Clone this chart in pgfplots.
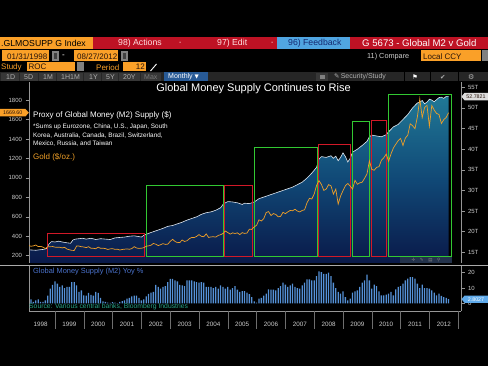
\documentclass[border=0pt]{standalone}
\usepackage{pgfplots}
\pgfplotsset{compat=1.18}
\usepackage{pgfplotstable}
\usepackage{fontspec}
\setmainfont{Liberation Sans}
\newfontfamily\dejavu{DejaVu Sans}

\definecolor{bbgorange}{RGB}{250,160,40}
\definecolor{bbgred}{RGB}{190,18,36}
\definecolor{fbblue}{RGB}{80,165,225}
\definecolor{fbtext}{RGB}{20,40,110}
\definecolor{goldline}{RGB}{240,160,40}
\definecolor{m2line}{RGB}{225,232,240}
\definecolor{areatop}{RGB}{32,120,150}
\definecolor{areamid}{RGB}{16,72,118}
\definecolor{areabot}{RGB}{10,24,72}
\definecolor{boxgreen}{RGB}{50,200,50}
\definecolor{boxred}{RGB}{210,25,40}
\definecolor{barblue}{RGB}{85,145,215}
\definecolor{ticktext}{RGB}{205,205,205}
\definecolor{axisgray}{RGB}{150,150,150}
\definecolor{sepgray}{RGB}{170,170,170}
\definecolor{yeargray}{RGB}{110,110,110}
\definecolor{yoytitle}{RGB}{75,115,205}
\definecolor{srcgreen}{RGB}{40,165,135}
\definecolor{toolbar}{RGB}{38,38,38}
\definecolor{btn}{RGB}{55,55,55}
\definecolor{tbtext}{RGB}{175,175,175}
\definecolor{tbdim}{RGB}{120,120,120}
\definecolor{monthly}{RGB}{40,90,150}
\definecolor{hdrtext}{RGB}{255,225,225}
\definecolor{darktext}{RGB}{40,20,10}
\definecolor{stripbg}{RGB}{35,50,75}
\definecolor{tagwhite}{RGB}{220,220,220}
\definecolor{tagblue}{RGB}{95,170,235}

% month index m: 0 = Jan 1998
\pgfplotstableread{
m gold yoy
0 305 2
1 297 2.5
2 301 1
3 310 2
4 294 2.5
5 296 1
6 288 1
7 273 2
8 293 5
9 292 9.6
10 294 12
11 288 14.4
12 287 12.8
13 287 10.7
14 280 11.7
15 286 10
16 268 10.7
17 261 10.7
18 255 13.9
19 254 13.9
20 299 11.7
21 299 7.4
22 292 8.5
23 290 5.2
24 283 5
25 293 6.8
26 276 5.5
27 276 5
28 272 7.4
29 288 6.8
30 276 3.5
31 277 1.3
32 273 1
33 264 0.5
34 270 0.3
35 272 0.8
36 265 0.5
37 267 0.2
38 258 1
39 264 1.5
40 267 2
41 270 3
42 266 3.5
43 273 4.5
44 293 5
45 279 5
46 275 3.5
47 277 2
48 282 2.5
49 297 4.5
50 301 6.2
51 308 7
52 326 7.4
53 318 12
54 304 10.7
55 313 9.6
56 324 10.7
57 316 11.3
58 319 13.9
59 347 16
60 368 16
61 347 15
62 334 14.4
63 336 12
64 361 11.7
65 346 11.3
66 354 15
67 375 15
68 388 15
69 386 14.4
70 398 13.9
71 417 13.5
72 399 13.9
73 395 13.5
74 424 10.7
75 388 10.7
76 393 10.7
77 395 10
78 391 10.7
79 408 9.6
80 416 11.7
81 428 10.7
82 453 9.6
83 438 10.7
84 422 9
85 435 10
86 428 11.3
87 435 9
88 417 7.4
89 437 8
90 429 8
91 433 7
92 473 6
93 470 4
94 495 1.3
95 513 0.5
96 569 3
97 556 3.5
98 582 5
99 644 6.3
100 653 9.1
101 613 9
102 633 9
103 624 8.5
104 600 10
105 604 11.3
106 646 13.5
107 632 12.2
108 650 10.7
109 665 11.7
110 662 12.8
111 677 10.7
112 659 10
113 650 9.6
114 665 11.7
115 672 13.5
116 743 15.7
117 789 15.7
118 783 15
119 834 15
120 923 17.8
121 971 20.9
122 933 20.4
123 871 19.3
124 885 19.3
125 930 20
126 918 17.8
127 833 13.5
128 884 10
129 730 7.4
130 814 6.3
131 869 7.8
132 919 4.1
133 942 2
134 916 3
135 884 7
136 975 7.8
137 934 8.5
138 949 10.7
139 955 13.5
140 996 15
141 1040 18.8
142 1175 15
143 1087 9.6
144 1078 12.2
145 1108 11.3
146 1115 7.8
147 1180 5.2
148 1207 5.2
149 1244 5.7
150 1169 6.3
151 1246 7.4
152 1307 5.2
153 1346 9.1
154 1383 10.7
155 1405 11.3
156 1333 12.8
157 1410 15
158 1439 16.1
159 1556 17.2
160 1536 17.2
161 1505 16.1
162 1628 12.8
163 1813 10
164 1620 12.2
165 1722 10
166 1746 10
167 1531 9.6
168 1744 8.5
169 1697 7
170 1662 5.2
171 1651 6.3
172 1559 4.8
173 1598 4.1
174 1622 3.5
175 1669 2.8
}\monthly

\pgfplotstableread{
m m2
0 15.6
3 15.5
6 15.7
7.5 15.9
8.5 17.0
9.5 17.6
11 17.5
12.5 17.7
14 17.5
16 17.3
17.5 17.2
18.5 18.0
19.5 18.2
21 18.3
22.5 18.4
24 18.2
26 18.4
28 18.1
30 18.3
32 18.2
34 18.1
36 18.5
38 18.6
40 18.7
42 18.9
44 19.0
46 18.8
47 18.7
48 19.1
50 19.6
52 20.0
54 20.4
56 20.8
58 21.3
60 21.5
62 21.9
64 22.3
66 22.8
68 23.2
70 23.6
72 24.2
74 24.6
76 24.8
78 25.2
80 25.8
81 26.6
82 27.0
83 27.3
85 27.2
87 27.0
89 26.6
90 26.9
92 26.8
94 27.2
96 28.0
98 28.4
100 28.8
102 29.2
104 29.6
106 30.0
108 30.4
110 30.8
112 31.4
114 32.0
116 33.0
118 34.2
120 35.6
121 37.6
122 38.2
124 38.0
126 38.4
127 37.8
128 38.3
129 37.2
130 38.0
131 39.1
132 38.2
133 36.9
134 37.8
135 39.3
137 40.0
139 40.9
141 41.9
142 43.0
143 43.4
145 43.2
147 43.0
149 43.5
150 44.2
152 45.4
154 46.0
155 46.6
157 47.8
158 48.4
159 49.2
160 50.0
162 51.2
163 51.4
164 51.8
165 51.0
166 51.4
167 52.1
168 51.9
169 51.5
170 52.0
171 52.5
172 52.6
173 52.3
174 52.8
175 52.78
}\mtwo

\pgfplotsset{
  bbgaxis/.style={
    at={(29pt,-263pt)}, anchor=south west, scale only axis,
    width=432pt, height=181pt,
    xmin=0.167, xmax=180.17, axis x line=none,
    tick align=outside, major tick length=3.5pt,
    every tick/.style={axisgray, line width=0.5pt},
    axis line style={axisgray, line width=0.6pt},
    tick label style={font=\fontsize{6}{7}\selectfont, text=ticktext},
    /pgf/number format/assume math mode=true,
    /pgf/number format/set thousands separator={},
  }
}

\begin{document}
\begin{tikzpicture}
\path[use as bounding box] (0,0) rectangle (488pt,-366pt);
\fill[black] (0,0) rectangle (488pt,-366pt);

% ---------- header ----------
\begin{scope}[x=1pt,y=-1pt]
 \tikzset{hdr/.style={inner sep=0pt, anchor=west, font=\fontsize{8.7}{9}\selectfont}}
 % row 1
 \fill[bbgorange] (0,37) rectangle (93,49.3);
 \node[hdr, text=black] at (1,43.2) {.GLMOSUPP G Index};
 \fill[bbgred] (93,37) rectangle (277,49.3);
 \fill[fbblue] (277,37) rectangle (350,49.3);
 \fill[bbgred] (350,37) rectangle (488,49.3);
 \node[hdr, text=hdrtext] at (118,43.2) {98) Actions};
 \node[hdr, text=hdrtext, font=\fontsize{7}{8}\selectfont] at (179,43.2) {-};
 \node[hdr, text=hdrtext] at (217,43.2) {97) Edit};
 \node[hdr, text=hdrtext, font=\fontsize{7}{8}\selectfont] at (271,43.2) {-};
 \node[hdr, text=fbtext] at (288,43.2) {96) Feedback};
 \node[hdr, text=white, font=\fontsize{9.6}{10}\selectfont] at (362,43.2) {G 5673 - Global M2 v Gold};
 % row 2
 \tikzset{hdr2/.style={inner sep=0pt, anchor=west, font=\fontsize{8}{9}\selectfont}}
 \fill[bbgorange] (2,50.5) rectangle (49,61.5);
 \node[hdr2, text=darktext] at (7,56.2) {01/31/1998};
 \fill[gray] (52,51) rectangle (58.5,61); \fill[darkgray] (53.5,53) rectangle (57,59);
 \node[hdr2, text=white] at (62,56) {-};
 \fill[bbgorange] (74,50.5) rectangle (118,61.5);
 \node[hdr2, text=darktext] at (77,56.2) {08/27/2012};
 \fill[gray] (121,51) rectangle (127.5,61); \fill[darkgray] (122.5,53) rectangle (126,59);
 \node[hdr2, text=ticktext, font=\fontsize{7.3}{8}\selectfont] at (367,56.2) {11) Compare};
 \fill[bbgorange] (421,50.5) rectangle (481,61.5);
 \node[hdr2, text=darktext] at (423,56.2) {Local CCY};
 \fill[gray] (482,50.5) rectangle (488,61.5);
 % row 3
 \node[hdr2, text=bbgorange] at (1,67.2) {Study};
 \fill[bbgorange] (27,62.5) rectangle (75,71.5);
 \node[hdr2, text=darktext] at (28.5,67.2) {ROC};
 \fill[gray] (77,62.5) rectangle (83.5,71.5);
 \node[hdr2, text=bbgorange] at (96,67.2) {Period};
 \fill[bbgorange] (123,62.5) rectangle (146,71.5);
 \node[hdr2, text=darktext, anchor=east] at (145,67.2) {12};
 \draw[white, line width=0.9pt] (150.5,71) -- (156.5,64);
 % row 4 toolbar
 \fill[toolbar] (0,72.5) rectangle (488,81.5);
 \foreach \a/\b in {1/19,20/38,39/56,57/83,84/101,102/118,119/140,141/161}{
   \fill[btn] (\a,73) rectangle (\b,81);}
 \tikzset{tb/.style={inner sep=0pt, anchor=west, font=\fontsize{7}{8}\selectfont, text=tbtext}}
 \node[tb] at (6,77) {1D};
 \node[tb] at (24,77) {5D};
 \node[tb] at (43,77) {1M};
 \node[tb] at (61,77) {1H1M};
 \node[tb] at (89,77) {1Y};
 \node[tb] at (106,77) {5Y};
 \node[tb] at (123,77) {20Y};
 \node[tb, text=tbdim] at (144,77) {Max};
 \fill[monthly] (164,72.5) rectangle (208,81.5);
 \node[tb, text=white] at (168,77) {Monthly {\dejavu\fontsize{5.5}{6}\selectfont ▼}};
 \fill[btn] (316,73) rectangle (328,81);
 \fill[gray] (319.5,75) rectangle (325,79.5);
 \node[tb] at (334,77) {{\dejavu\fontsize{6.5}{7}\selectfont ✎}\,Security/Study};
 \draw[black] (404,72.5) -- (404,81.5) (430,72.5) -- (430,81.5) (458,72.5) -- (458,81.5);
 \node[tb, text=white] at (412,77) {\dejavu\fontsize{6.5}{7}\selectfont ⚑};
 \node[tb] at (440,77) {\dejavu\fontsize{6.5}{7}\selectfont ✔};
 \node[tb] at (468,77) {\dejavu\fontsize{7}{8}\selectfont ⚙};
\end{scope}

% ---------- main chart: M2 (right axis) ----------
\begin{axis}[bbgaxis,
  ymin=12.41, ymax=56.28,
  axis y line*=right,
  ytick={15,20,25,30,35,40,45,50,55},
  yticklabels={15T,20T,25T,30T,35T,40T,45T,50T,55T},
]
\addplot[draw=none, top color=areatop, bottom color=areabot, middle color=areamid]
  table[x=m,y=m2]{\mtwo} -- (axis cs:175,12.0) -- (axis cs:0,12.0) -- cycle;
\addplot[draw=m2line, line width=0.6pt] table[x=m,y=m2]{\mtwo};
% highlight boxes
\draw[boxred, line width=0.9pt] (axis cs:7.9,14.05) rectangle (axis cs:48.1,19.6);
\draw[boxgreen, line width=0.9pt] (axis cs:48.9,14.05) rectangle (axis cs:81.1,31.2);
\draw[boxred, line width=0.9pt] (axis cs:81.8,14.05) rectangle (axis cs:93.2,31.3);
\draw[boxgreen, line width=0.9pt] (axis cs:93.9,14.05) rectangle (axis cs:120.5,40.45);
\draw[boxred, line width=0.9pt] (axis cs:120.7,14.05) rectangle (axis cs:134.3,41.1);
\draw[boxgreen, line width=0.9pt] (axis cs:135.0,14.05) rectangle (axis cs:142.0,46.6);
\draw[boxred, line width=0.9pt] (axis cs:143.0,14.05) rectangle (axis cs:149.1,47.0);
\draw[boxgreen, line width=0.9pt] (axis cs:150.0,14.05) rectangle (axis cs:176.3,53.3);
\end{axis}

% ---------- main chart: gold (left axis) ----------
\begin{axis}[bbgaxis,
  ymin=125, ymax=1985.2,
  axis y line*=left,
  ytick={200,400,...,1800},
]
\addplot[draw=goldline, line width=0.7pt] table[x=m,y=gold]{\monthly};
\end{axis}

% small chart tool strip
\fill[stripbg] (400pt,-257.5pt) rectangle (452pt,-263pt);
\node[inner sep=0pt, font=\dejavu\fontsize{4.5}{5}\selectfont, text=gray] at (426pt,-260.3pt) {✛\quad✎\quad▤\quad⚲};

% text inside main chart
\node[font=\fontsize{11}{13}\selectfont, text=white, inner sep=0pt] at (253.5pt,-88.5pt) {Global Money Supply Continues to Rise};
\node[anchor=west, inner sep=0pt, font=\fontsize{8}{9}\selectfont, text=white] at (33pt,-115.7pt) {Proxy of Global Money (M2) Supply (\$)};
\node[anchor=west, inner sep=0pt, font=\fontsize{6.4}{7}\selectfont, text=white] at (33pt,-127.3pt) {*Sums up Eurozone, China, U.S., Japan, South};
\node[anchor=west, inner sep=0pt, font=\fontsize{6.4}{7}\selectfont, text=white] at (33pt,-135.5pt) {Korea, Australia, Canada, Brazil, Switzerland,};
\node[anchor=west, inner sep=0pt, font=\fontsize{6.4}{7}\selectfont, text=white] at (33pt,-143.5pt) {Mexico, Russia, and Taiwan};
\node[anchor=west, inner sep=0pt, font=\fontsize{8}{9}\selectfont, text=goldline] at (33pt,-157.7pt) {Gold (\$/oz.)};

% value tags
\fill[bbgorange] (0pt,-109pt) -- (25.5pt,-109pt) -- (28.8pt,-112.7pt) -- (25.5pt,-116.4pt) -- (0pt,-116.4pt) -- cycle;
\node[inner sep=0pt, font=\fontsize{5.3}{6}\selectfont, text=darktext] at (12.8pt,-112.7pt) {1669.60};
\fill[tagwhite] (461.5pt,-96.6pt) -- (464.5pt,-92.9pt) -- (488pt,-92.9pt) -- (488pt,-100.3pt) -- (464.5pt,-100.3pt) -- cycle;
\node[inner sep=0pt, font=\fontsize{5.3}{6}\selectfont, text=darktext] at (476pt,-96.6pt) {52.7821};

% separator
\draw[sepgray, line width=0.8pt] (0,-265.7pt) -- (488pt,-265.7pt);

% ---------- bottom panel: YoY bars ----------
\begin{axis}[at={(29pt,-311pt)}, anchor=south west, scale only axis,
  width=432pt, height=45.3pt,
  xmin=0.167, xmax=180.17, ymin=-5.03, ymax=24.6,
  axis x line*=bottom, axis y line*=right,
  xtick=\empty, ytick={0,10,20},
  tick align=outside, major tick length=3.5pt,
  every tick/.style={axisgray, line width=0.5pt},
  axis line style={axisgray, line width=0.6pt},
  tick label style={font=\fontsize{6}{7}\selectfont, text=ticktext},
  /pgf/number format/assume math mode=true,
]
\addplot[ybar, bar width=1.3pt, bar shift=0pt, fill=barblue, draw=none] table[x=m,y=yoy]{\monthly};
\end{axis}
\draw[axisgray, line width=0.6pt] (29pt,-265.7pt) -- (29pt,-311pt);
\node[anchor=west, inner sep=0pt, font=\fontsize{7.4}{8}\selectfont, text=yoytitle] at (33pt,-271.7pt) {Global Money Supply (M2) Yoy \%};
\node[anchor=west, inner sep=0pt, font=\fontsize{6.8}{7}\selectfont, text=srcgreen] at (29pt,-307pt) {Source: Various central banks, Bloomberg Industries};
\fill[tagblue] (461.5pt,-299.2pt) -- (464.5pt,-295.6pt) -- (488pt,-295.6pt) -- (488pt,-302.8pt) -- (464.5pt,-302.8pt) -- cycle;
\node[inner sep=0pt, font=\fontsize{5.3}{6}\selectfont, text=white] at (476pt,-299.2pt) {2.8027};

% ---------- year band ----------
\foreach \k in {1,...,15}{
  \draw[yeargray, line width=0.6pt] ({26.2pt+28.8pt*\k},-311pt) -- ({26.2pt+28.8pt*\k},-329pt);
}
\foreach \k [evaluate=\k as \yr using int(1998+\k)] in {0,...,14}{
  \node[inner sep=0pt, font=\fontsize{6.3}{7}\selectfont, text=ticktext] at ({40.6pt+28.8pt*\k},-324pt) {\yr};
}
\end{tikzpicture}
\end{document}
